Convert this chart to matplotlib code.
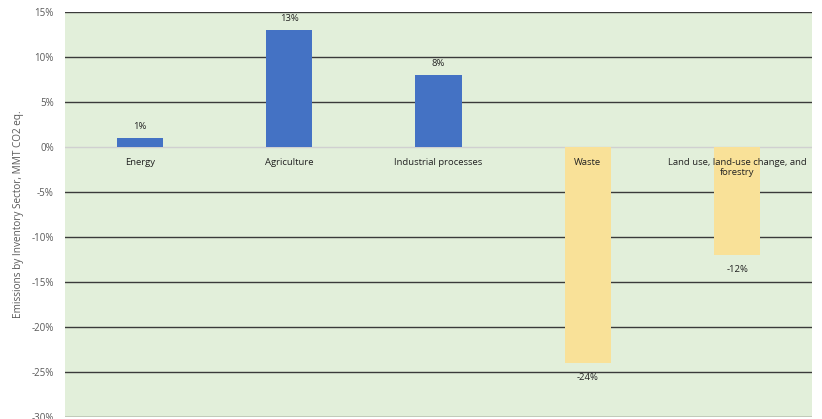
import numpy as np
import matplotlib.pyplot as plt
from matplotlib.ticker import FuncFormatter

plt.rcParams['font.family'] = ['Open Sans', 'DejaVu Sans']

# Data
sectors = ["Energy", "Agriculture", "Industrial processes", "Waste",
           "Land use, land-use change, and\nforestry"]
change = [1, 13, 8, -24, -12]
labels = ["1%", "13%", "8%", "-24%", "-12%"]

blue = "#4472C4"
yellow = "#F9E198"
bg = "#E2EFDA"

fig = plt.figure(figsize=(8.22, 4.19), dpi=100)
ax = fig.add_axes([65 / 822, 2 / 419, 747 / 822, 405 / 419])
ax.set_facecolor(bg)

x = np.arange(len(sectors))
colors = [blue if v > 0 else yellow for v in change]
bars = ax.bar(x, change, width=0.31, color=colors, zorder=2)

for b, v, lab in zip(bars, change, labels):
    if v > 0:
        ax.annotate(lab, (b.get_x() + b.get_width() / 2, v), xytext=(0, 5),
                    textcoords="offset points", ha="center", va="bottom",
                    fontsize=6.8, color="#222222")
    else:
        ax.annotate(lab, (b.get_x() + b.get_width() / 2, v), xytext=(0, -7),
                    textcoords="offset points", ha="center", va="top",
                    fontsize=6.8, color="#222222")

ax.set_xlim(-0.5, len(sectors) - 0.5)
ax.set_ylim(-30, 15)
ax.set_yticks(np.arange(-30, 16, 5))
ax.yaxis.set_major_formatter(FuncFormatter(lambda v, p: f"{v:.0f}%"))

# grid lines, 0 line is lighter
ax.yaxis.grid(True, color="#3a3a3a", linewidth=1.0)
ax.set_axisbelow(True)
for t, gl in zip(ax.get_yticks(), ax.get_ygridlines()):
    if t == 0:
        gl.set_color("#D0D0D0")

# category labels sit just under the zero line, on top of the bars
ax.spines['bottom'].set_position(('data', 0))
ax.set_xticks(x)
ax.set_xticklabels(sectors, fontsize=6.8, color="#222222", linespacing=1.15)
ax.tick_params(axis='x', length=0, pad=8)
ax.xaxis.set_zorder(3)
ax.tick_params(axis='y', length=0, labelsize=7, labelcolor="#595959", pad=8)

for s in ["top", "right", "left", "bottom"]:
    ax.spines[s].set_visible(False)

ax.set_ylabel("Emissions by Inventory Sector, MMT CO2 eq.", fontsize=7.2,
              color="#595959", labelpad=5)

fig.savefig("out.png", dpi=100)
